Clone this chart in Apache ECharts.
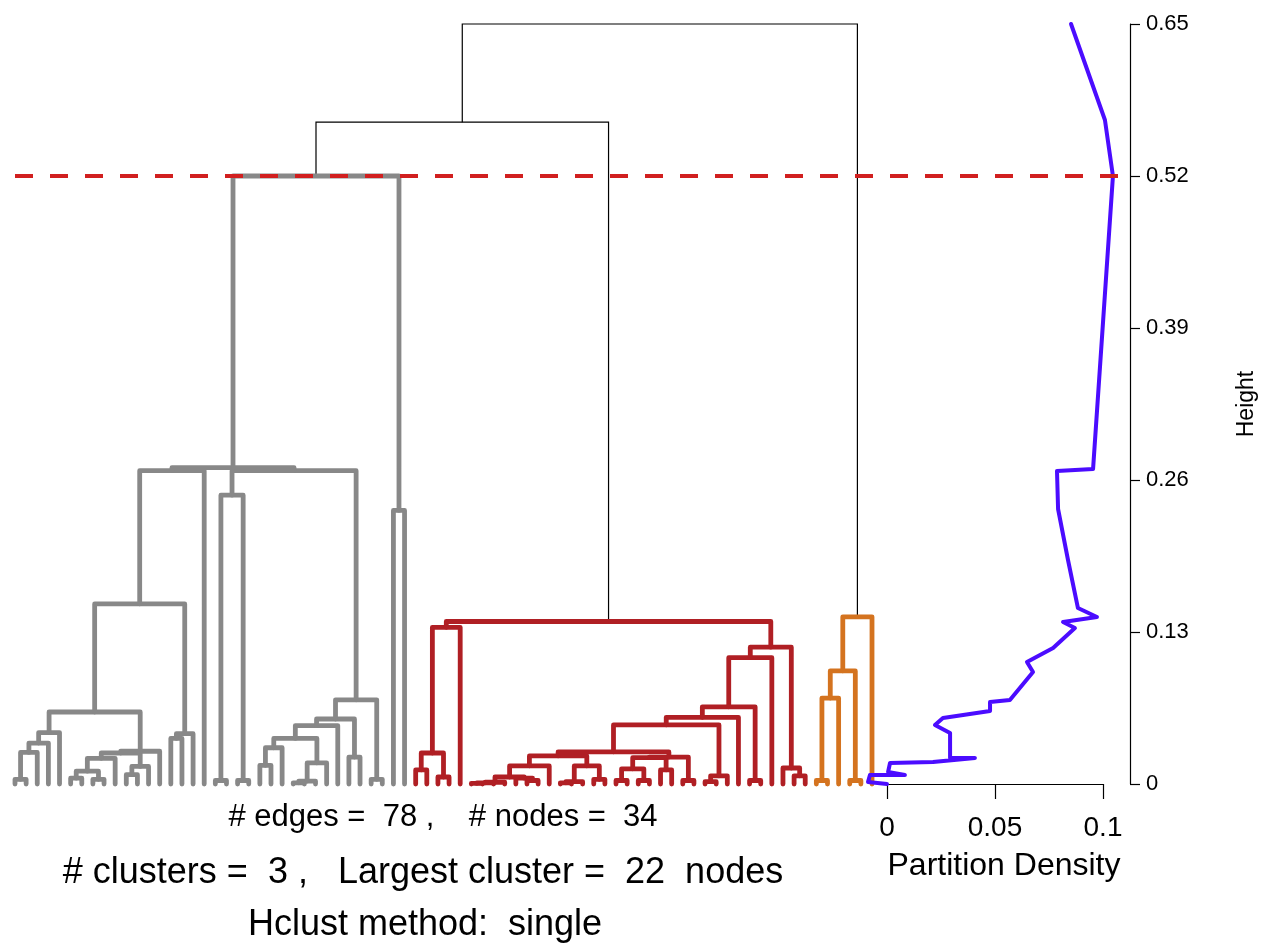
<!DOCTYPE html>
<html><head><meta charset="utf-8">
<script src="https://cdn.jsdelivr.net/npm/echarts@6/dist/echarts.min.js"></script>
<style>html,body{margin:0;padding:0;background:#fff}#c{width:1264px;height:946px}</style>
</head><body><div id="c"></div>
<script>
// Dendrogram merges: [left, right, height]; a number = leaf position (0-based, plot order), 'mK' = merge K
const merges = [
  [0, 1, 0.004], ['m0', 2, 0.027], ['m1', 3, 0.035], ['m2', 4, 0.044],
  [5, 6, 0.005], [7, 8, 0.004], ['m4', 'm5', 0.011], ['m6', 9, 0.022],
  [10, 11, 0.008], ['m8', 12, 0.015], ['m7', 'm9', 0.0265], ['m10', 13, 0.028],
  ['m3', 'm11', 0.0616], [14, 15, 0.039], ['m13', 16, 0.043], ['m12', 'm14', 0.154],
  ['m15', 17, 0.268], [18, 19, 0.003], [20, 21, 0.003], ['m17', 'm18', 0.247],
  [22, 23, 0.016], ['m20', 24, 0.031], [25, 26, 0.001], ['m22', 27, 0.0025],
  ['m23', 28, 0.018], ['m21', 'm24', 0.039], ['m25', 29, 0.050], [30, 31, 0.023],
  ['m26', 'm27', 0.0556], [32, 33, 0.004], ['m28', 'm29', 0.072], ['m19', 'm30', 0.268],
  ['m16', 'm31', 0.2705], [34, 35, 0.234], ['m32', 'm33', 0.52],
  [36, 37, 0.012], [38, 39, 0.006], ['m35', 'm36', 0.0265], ['m37', 40, 0.134],
  [41, 42, 0.0005], ['m39', 43, 0.001], ['m40', 44, 0.0015], [46, 47, 0.003],
  [45, 'm42', 0.005], ['m41', 'm43', 0.006], ['m44', 48, 0.0155], [49, 50, 0.001],
  ['m46', 51, 0.002], [52, 53, 0.004], ['m47', 'm48', 0.0155], ['m45', 'm49', 0.024],
  [54, 55, 0.003], [56, 57, 0.003], ['m51', 'm52', 0.013], [58, 59, 0.012],
  ['m53', 'm54', 0.0225], [60, 61, 0.003], ['m55', 'm56', 0.023], ['m50', 'm57', 0.0274],
  [62, 63, 0.002], ['m59', 64, 0.007], ['m58', 'm60', 0.0505], ['m61', 65, 0.057],
  [66, 67, 0.003], ['m62', 'm63', 0.066], ['m64', 68, 0.108], [70, 71, 0.007],
  [69, 'm66', 0.0137], ['m65', 'm67', 0.117], ['m38', 'm68', 0.139],
  [72, 73, 0.003], ['m70', 74, 0.0735], [75, 76, 0.003], ['m71', 'm72', 0.0967],
  ['m73', 77, 0.143],
  ['m34', 'm69', 0.566], ['m75', 'm74', 0.65]
];
const clusterSizes = [36, 36, 6];
const clusterColors = ['#888888', '#B01F24', '#D4731F'];
const cutHeight = 0.52;
const heightTicks = ['0', '0.13', '0.26', '0.39', '0.52', '0.65'];
const heightStep = 0.13;
// Partition density curve (height, density)
const densityHeights = [0, 0.0017, 0.0077, 0.0077, 0.0103, 0.018, 0.0188, 0.0222, 0.0222, 0.0436,
  0.0505, 0.0564, 0.0624, 0.0701, 0.0718, 0.0958, 0.1043, 0.1163, 0.1334, 0.1386, 0.1428,
  0.1505, 0.1916, 0.2352, 0.2677, 0.2694, 0.52, 0.5679, 0.65];
const densityValues = [0, -0.0088, -0.0079, 0.0083, 0.0005, 0.0014, 0.0213, 0.0407, 0.0292, 0.0292,
  0.0222, 0.0259, 0.0477, 0.0477, 0.0569, 0.0676, 0.0648, 0.0769, 0.087, 0.0815, 0.0972,
  0.0884, 0.0838, 0.0792, 0.0787, 0.0954, 0.1046, 0.1009, 0.0852];
const densityTicks = ['0', '0.05', '0.1'];
const densityStep = 0.05;
const infoLines = [
  '# edges =  78 ,    # nodes =  34',
  '# clusters =  3 ,   Largest cluster =  22  nodes',
  'Hclust method:  single'
];
const densityTitle = 'Partition Density';

const FONT = "'Liberation Sans', Arial, Helvetica, sans-serif";
const clusterOf = (i) => { let s = 0; for (let c = 0; c < clusterSizes.length; c++) { s += clusterSizes[c]; if (i < s) return c; } return -1; };

const nodeX = [], nodeH = [], nodeLo = [], nodeHi = [];
function ref(r) {
  if (typeof r === 'number') return { x: r, h: 0, lo: r, hi: r };
  const k = +r.slice(1);
  return { x: nodeX[k], h: nodeH[k], lo: nodeLo[k], hi: nodeHi[k] };
}
const blackSegs = [], colorSegs = [];
merges.forEach((m, k) => {
  const a = ref(m[0]), b = ref(m[1]);
  nodeX[k] = (a.x + b.x) / 2; nodeH[k] = m[2];
  nodeLo[k] = Math.min(a.lo, b.lo); nodeHi[k] = Math.max(a.hi, b.hi);
  const c1 = clusterOf(nodeLo[k]), c2 = clusterOf(nodeHi[k]);
  const item = { coords: [[a.x, a.h], [a.x, m[2]], [b.x, m[2]], [b.x, b.h]] };
  if (c1 === c2) { item.lineStyle = { color: clusterColors[c1], width: 4.8, opacity: 1, cap: 'round', join: 'round' }; colorSegs.push(item); }
  else { item.lineStyle = { color: '#000', width: 1.2, opacity: 1 }; blackSegs.push(item); }
});

// layout: leaves spaced along the grid; grid extends to the height axis
const gridLeft = 15, axisX = 1130, leafPx = 11.13;
const xMax = (axisX - gridLeft) / leafPx;
// density panel: visible axis spans 0..0.1 (887..1103); curve drawn in a wider, same-scaled grid
const pdLeft = 887, pdWidth = 216, pdMax = 0.1;
const pdPx = pdWidth / pdMax;
const curveLeft = 850, curveWidth = 290;

const chart = echarts.init(document.getElementById('c'), null, { renderer: 'canvas' });
chart.setOption({
  animation: false,
  backgroundColor: '#fff',
  grid: [
    { left: gridLeft, top: 24, width: axisX - gridLeft, height: 760, outerBoundsMode: 'none', containLabel: false },
    { left: pdLeft, top: 24, width: pdWidth, height: 760, outerBoundsMode: 'none', containLabel: false },
    { left: curveLeft, top: 24, width: curveWidth, height: 760, outerBoundsMode: 'none', containLabel: false }
  ],
  xAxis: [
    { gridIndex: 0, type: 'value', min: 0, max: xMax, show: false },
    { gridIndex: 1, type: 'value', min: 0, max: pdMax, interval: densityStep, position: 'bottom',
      axisLine: { show: true, onZero: false, lineStyle: { color: '#000', width: 1.2 } },
      axisTick: { show: true, length: 15, lineStyle: { color: '#000', width: 1.2 } },
      axisLabel: { margin: 30, fontSize: 28, color: '#000', fontFamily: FONT,
        formatter: (v) => densityTicks[Math.round(v / densityStep)] },
      splitLine: { show: false } },
    { gridIndex: 2, type: 'value', min: -(pdLeft - curveLeft) / pdPx,
      max: -(pdLeft - curveLeft) / pdPx + curveWidth / pdPx, show: false }
  ],
  yAxis: [
    { gridIndex: 0, type: 'value', position: 'right', min: 0, max: 0.65, interval: heightStep,
      axisLine: { show: true, onZero: false, lineStyle: { color: '#000', width: 1.2 } },
      axisTick: { show: true, length: 10, lineStyle: { color: '#000', width: 1.2 } },
      axisLabel: { margin: 16, fontSize: 22, color: '#000', fontFamily: FONT,
        formatter: (v) => heightTicks[Math.round(v / heightStep)] },
      splitLine: { show: false },
      name: 'Height', nameLocation: 'middle', nameGap: 105, nameRotate: 90,
      nameTextStyle: { fontSize: 23, color: '#000', fontFamily: FONT } },
    { gridIndex: 1, type: 'value', min: 0, max: 0.65, show: false },
    { gridIndex: 2, type: 'value', min: 0, max: 0.65, show: false }
  ],
  series: [
    { type: 'lines', coordinateSystem: 'cartesian2d', xAxisIndex: 0, yAxisIndex: 0, polyline: true,
      silent: true, clip: false, data: blackSegs, lineStyle: { opacity: 1 } },
    { type: 'lines', coordinateSystem: 'cartesian2d', xAxisIndex: 0, yAxisIndex: 0, polyline: true,
      silent: true, clip: false, data: colorSegs, lineStyle: { opacity: 1, cap: 'round', join: 'round' },
      markLine: { silent: true, symbol: 'none', label: { show: false },
        lineStyle: { color: '#D11F1F', width: 4, type: [18, 17], opacity: 1 },
        data: [{ yAxis: cutHeight }] } },
    { type: 'line', xAxisIndex: 2, yAxisIndex: 2, showSymbol: false, symbol: 'none', clip: false,
      lineStyle: { color: '#4B0CFF', width: 4, cap: 'round', join: 'round' },
      data: densityValues.map((v, i) => [v, densityHeights[i]]) }
  ],
  graphic: [
    { type: 'text', x: 443, y: 817, style: { text: infoLines[0], fontSize: 31, fontFamily: FONT, fill: '#000', textAlign: 'center', textVerticalAlign: 'middle', align: 'center', verticalAlign: 'middle' } },
    { type: 'text', x: 423, y: 873, style: { text: infoLines[1], fontSize: 36, fontFamily: FONT, fill: '#000', textAlign: 'center', textVerticalAlign: 'middle', align: 'center', verticalAlign: 'middle' } },
    { type: 'text', x: 425, y: 925, style: { text: infoLines[2], fontSize: 36, fontFamily: FONT, fill: '#000', textAlign: 'center', textVerticalAlign: 'middle', align: 'center', verticalAlign: 'middle' } },
    { type: 'text', x: 1004, y: 866, style: { text: densityTitle, fontSize: 32, fontFamily: FONT, fill: '#000', textAlign: 'center', textVerticalAlign: 'middle', align: 'center', verticalAlign: 'middle' } }
  ]
});
</script></body></html>
